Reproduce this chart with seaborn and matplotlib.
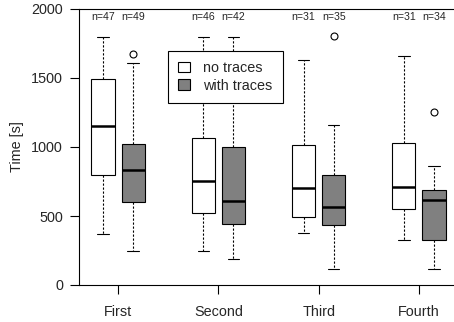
import numpy as np
import pandas as pd
import matplotlib
matplotlib.use("Agg")
import matplotlib.pyplot as plt
from matplotlib.patches import Patch
import seaborn as sns

# ---- data ----
groups = ["First", "Second", "Third", "Fourth"]
conditions = ["no traces", "with traces"]

# five-number summaries per group: [lower whisker, Q1, median, Q3, upper whisker]
no_traces_stats = [
    [372, 795, 1154, 1493, 1800],
    [249, 524, 751, 1068, 1800],
    [377, 493, 705, 1012, 1630],
    [324, 551, 710, 1031, 1659],
]
with_traces_stats = [
    [249, 604, 831, 1024, 1611],
    [191, 440, 609, 1002, 1800],
    [118, 435, 563, 795, 1157],
    [114, 328, 614, 688, 865],
]
no_traces_outliers = [[], [], [], []]
with_traces_outliers = [[1674], [], [1804], [1254]]

n_no_traces = [47, 46, 31, 31]
n_with_traces = [49, 42, 35, 34]

yticks = [0, 500, 1000, 1500, 2000]

# ---- build a long-form table that reproduces the summaries ----
rows = []
for cond, stats, outs in [("no traces", no_traces_stats, no_traces_outliers),
                          ("with traces", with_traces_stats, with_traces_outliers)]:
    for g, s, o in zip(groups, stats, outs):
        lo, q1, med, q3, hi = s
        vals = [lo] + [q1] * 10 + [med] * 10 + [q3] * 10 + [hi] + list(o)
        rows += [(g, cond, v) for v in vals]
df = pd.DataFrame(rows, columns=["group", "condition", "time"])

sns.set_theme(style="ticks")
plt.rcParams["font.family"] = ["Liberation Sans", "DejaVu Sans"]

W, H = 454, 322
fig = plt.figure(figsize=(W / 100, H / 100), dpi=100)
ax = fig.add_axes([79 / W, (H - 285) / H, (W - 79) / W, 276 / H])

palette = {"no traces": "white", "with traces": "#808080"}
sns.boxplot(
    data=df, x="group", y="time", hue="condition",
    order=groups, hue_order=conditions, palette=palette,
    width=0.6, gap=0.23, saturation=1, linecolor="black", linewidth=0.8,
    whis=1.5, legend=False, ax=ax,
    medianprops=dict(color="black", linewidth=1.8),
    whiskerprops=dict(color="black", linewidth=0.8, linestyle=(0, (2, 1.6))),
    capprops=dict(color="black", linewidth=0.8),
    flierprops=dict(marker="o", markersize=5, markerfacecolor="none",
                    markeredgecolor="black", markeredgewidth=0.8),
)

FS = 10.4
ax.set_ylim(0, 2000)
ax.set_xlim(-0.39, 3.35)
ax.set_yticks(yticks)
ax.set_yticklabels([str(t) for t in yticks])
ax.set_xlabel("")
ax.set_ylabel("Time [s]", fontsize=FS, labelpad=5)
ax.tick_params(axis="both", labelsize=FS, length=6.5, width=0.8, color="black")
ax.tick_params(axis="x", pad=8)
ax.tick_params(axis="y", pad=5)

for side in ["left", "bottom", "top"]:
    ax.spines[side].set_visible(True)
    ax.spines[side].set_linewidth(0.8)
    ax.spines[side].set_color("black")
ax.spines["right"].set_visible(False)

# n labels
offset = 0.15
for i in range(len(groups)):
    ax.text(i - offset, 1940, f"n={n_no_traces[i]}", ha="center", va="center", fontsize=7.6)
    ax.text(i + offset, 1940, f"n={n_with_traces[i]}", ha="center", va="center", fontsize=7.6)

handles = [Patch(facecolor=palette[c], edgecolor="black", linewidth=0.8) for c in conditions]
leg = ax.legend(handles, conditions, loc="upper left", bbox_to_anchor=(0.237, 0.848),
                fontsize=FS, frameon=True, fancybox=False, framealpha=1,
                edgecolor="black", handlelength=0.85, handleheight=0.75,
                handletextpad=0.9, borderpad=0.7, labelspacing=0.25,
                borderaxespad=0)
leg.get_frame().set_linewidth(0.8)

fig.savefig("out.png", dpi=100)
